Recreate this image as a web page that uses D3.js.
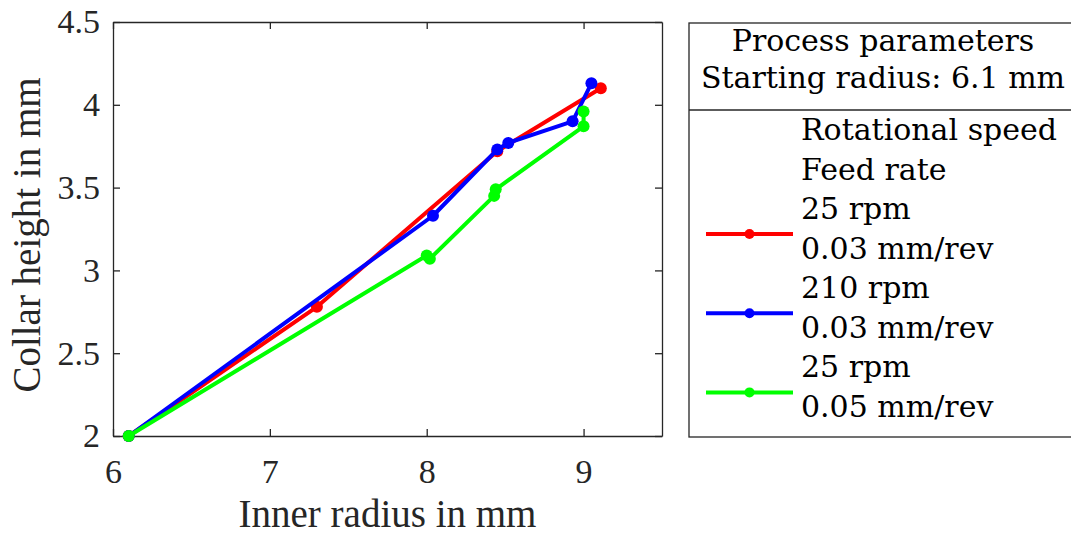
<head>
	<script src="https://d3js.org/d3.v7.min.js"></script>
	<style type="text/css">
		body { margin: 0; background: #fff; }
		.axis text { font-family: 'Liberation Serif', 'Times New Roman', serif; font-size: 34px; fill: #262626; }
		.axis path, .axis line { stroke: #262626; stroke-width: 1.3; }
		.axis-label { font-family: 'Liberation Serif', 'Times New Roman', serif; font-size: 39px; fill: #262626; }
		.legend text { font-family: 'DejaVu Serif', serif; font-size: 30px; fill: #000; }
	</style>
</head>
<body>
	<script type="text/javascript">
		// values
		const radiusRed = [6.1, 7.3, 8.45, 9.11]
		const heightRed = [2.0, 2.78, 3.72, 4.10]
		const radiusBlue = [6.1, 8.04, 8.45, 8.52, 8.93, 9.05]
		const heightBlue = [2.0, 3.33, 3.73, 3.77, 3.90, 4.13]
		const radiusGreen = [6.1, 8.0, 8.02, 8.43, 8.44, 9.0, 9.0]
		const heightGreen = [2.0, 3.09, 3.07, 3.45, 3.49, 3.87, 3.96]

		const xTicks = [6, 7, 8, 9]
		const yTicks = [2, 2.5, 3, 3.5, 4, 4.5]
		const legendTitle = ['Process parameters', 'Starting radius: 6.1 mm']
		const legendHead = ['Rotational speed', 'Feed rate']
		const seriesNames = [['25 rpm', '0.03 mm/rev'], ['210 rpm', '0.03 mm/rev'], ['25 rpm', '0.05 mm/rev']]
		const seriesColors = ['#ff0000', '#0000ff', '#00ff00']

		const series = [
			{x: radiusRed, y: heightRed},
			{x: radiusBlue, y: heightBlue},
			{x: radiusGreen, y: heightGreen}
		]

		const margin = {top:22, left:113}
		const width = 549, height = 414

		const svg = d3.select('body').append('svg')
				.attr('width', 1071)
				.attr('height', 535)
		const g = svg.append('g')
				.attr('transform', 'translate('+margin.left+','+margin.top+')')

		const x = d3.scaleLinear().domain([6, 9.5]).range([0, width])
		const y = d3.scaleLinear().domain([2, 4.5]).range([height, 0])

		g.append('g').attr('class', 'axis')
			.attr('transform', 'translate(0,'+height+')')
			.call(d3.axisBottom(x).tickValues(xTicks).tickFormat(d3.format('')).tickSizeInner(-7).tickSizeOuter(0).tickPadding(23))
		g.append('g').attr('class', 'axis')
			.call(d3.axisLeft(y).tickValues(yTicks).tickFormat(d3.format('')).tickSizeInner(-7).tickSizeOuter(0).tickPadding(13))
		g.append('g').attr('class', 'axis')
			.call(d3.axisTop(x).tickValues(xTicks).tickFormat('').tickSizeInner(-7).tickSizeOuter(0))
		g.append('g').attr('class', 'axis')
			.attr('transform', 'translate('+width+',0)')
			.call(d3.axisRight(y).tickValues(yTicks).tickFormat('').tickSizeInner(-7).tickSizeOuter(0))

		const line = d3.line().x(d => x(d[0])).y(d => y(d[1]))

		series.forEach((s, i) => {
			const pts = s.x.map((v, j) => [v, s.y[j]])
			g.append('path')
				.datum(pts)
				.attr('d', line)
				.attr('fill', 'none')
				.attr('stroke', seriesColors[i])
				.attr('stroke-width', 4)
				.attr('stroke-linejoin', 'round')
			g.selectAll('.dot'+i)
				.data(pts)
				.enter().append('circle')
				.attr('class', 'dot'+i)
				.attr('cx', d => x(d[0]))
				.attr('cy', d => y(d[1]))
				.attr('r', 6)
				.attr('fill', seriesColors[i])
		})

		svg.append('text').attr('class', 'axis-label')
			.attr('x', margin.left + width/2)
			.attr('y', 527)
			.attr('text-anchor', 'middle')
			.text('Inner radius in mm')
		svg.append('text').attr('class', 'axis-label')
			.attr('transform', 'translate(40,'+(margin.top + height/2 + 6)+') rotate(-90)')
			.attr('text-anchor', 'middle')
			.text('Collar height in mm')

		// legend
		const lg = svg.append('g').attr('class', 'legend')
		lg.append('rect')
			.attr('x', 689).attr('y', 23)
			.attr('width', 400).attr('height', 414)
			.attr('fill', '#fff').attr('stroke', '#262626').attr('stroke-width', 1.3)
		lg.append('line')
			.attr('x1', 689).attr('x2', 1080)
			.attr('y1', 110).attr('y2', 110)
			.attr('stroke', '#262626').attr('stroke-width', 1.3)
		lg.selectAll('.title')
			.data(legendTitle)
			.enter().append('text')
			.attr('class', 'title')
			.attr('x', 883)
			.attr('y', (d, i) => 51 + i*37)
			.attr('text-anchor', 'middle')
			.text(d => d)
		lg.selectAll('.head')
			.data(legendHead)
			.enter().append('text')
			.attr('class', 'head')
			.attr('x', 801)
			.attr('y', (d, i) => 140 + i*39.5)
			.text(d => d)

		seriesNames.forEach((names, i) => {
			const ly = 234 + i*79.2
			lg.append('line')
				.attr('x1', 706).attr('x2', 793)
				.attr('y1', ly).attr('y2', ly)
				.attr('stroke', seriesColors[i]).attr('stroke-width', 4)
			lg.append('circle')
				.attr('cx', 749.5).attr('cy', ly).attr('r', 5)
				.attr('fill', seriesColors[i])
			names.forEach((t, j) => {
				lg.append('text')
					.attr('x', 801)
					.attr('y', ly - 15 + j*39.5)
					.text(t)
			})
		})
	</script>
</body>
